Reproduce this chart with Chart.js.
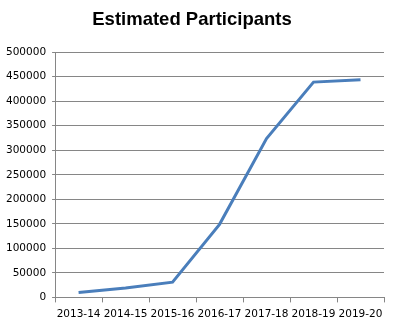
<!DOCTYPE html>
<html>
<head>
<meta charset="utf-8">
<script src="https://cdn.jsdelivr.net/npm/chart.js@4/dist/chart.umd.min.js"></script>
<style>
    html, body { margin: 0; padding: 0; background: #fff; }
    #wrap { position: relative; width: 402px; height: 321px; }
</style>
</head>
<body>
<div id="wrap"><canvas id="chart"></canvas></div>
<script>
const seasons = ['2013-14', '2014-15', '2015-16', '2016-17', '2017-18', '2018-19', '2019-20'];
const participants = [10000, 19000, 31000, 149000, 324000, 439000, 444000];

const gridColor = '#868686';
const tickFont = { family: 'DejaVu Sans', size: 10.5 };

new Chart(document.getElementById('chart'), {
    type: 'line',
    data: {
        labels: seasons,
        datasets: [
            {
                label: 'Estimated Participants',
                data: participants,
                borderColor: '#4a7ebb',
                borderWidth: 3,
                pointRadius: 0,
                tension: 0,
                fill: false,
            },
        ],
    },
    options: {
        responsive: true,
        maintainAspectRatio: false,
        animation: false,
        layout: {
            padding: { left: 0, right: 18, top: 9, bottom: -6 },
        },
        plugins: {
            legend: { display: false },
            tooltip: { enabled: false },
            title: {
                display: true,
                text: 'Estimated Participants',
                color: '#000',
                font: { family: 'Liberation Sans', size: 18.5, weight: 'bold' },
                padding: { top: 0, bottom: 21 },
            },
        },
        scales: {
            x: {
                offset: true,
                grid: {
                    offset: true,
                    drawOnChartArea: false,
                    drawTicks: true,
                    tickLength: 5,
                    color: gridColor,
                },
                border: { color: gridColor },
                ticks: {
                    color: '#000',
                    font: tickFont,
                    maxRotation: 0,
                    autoSkip: false,
                    padding: 6,
                },
            },
            y: {
                min: 0,
                max: 500000,
                grid: {
                    color: gridColor,
                    tickLength: 3,
                },
                border: { color: gridColor },
                ticks: {
                    stepSize: 50000,
                    color: '#000',
                    font: tickFont,
                    padding: 6,
                    callback: (value) => String(value),
                },
            },
        },
    },
});
</script>
</body>
</html>
